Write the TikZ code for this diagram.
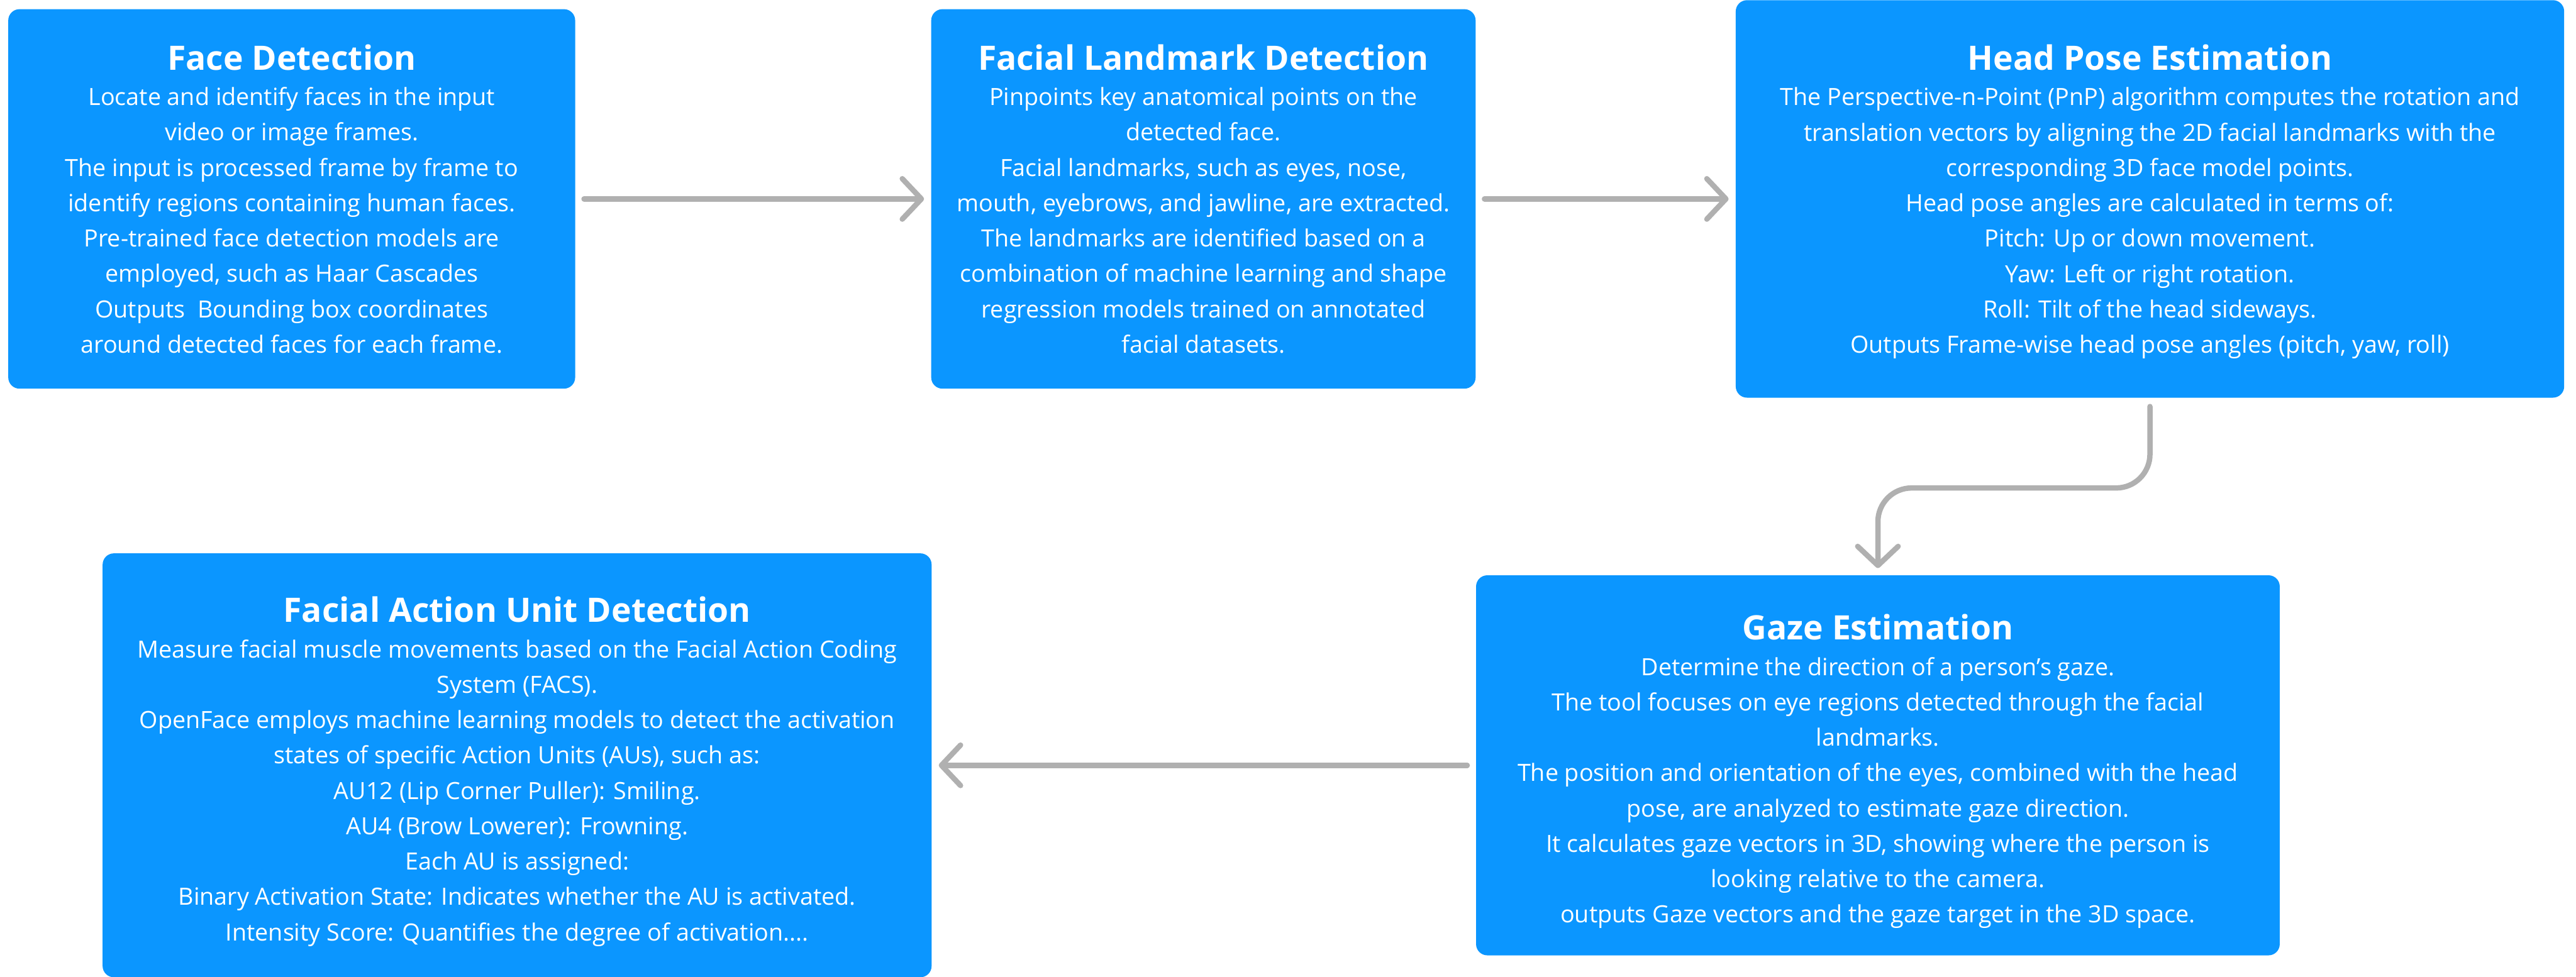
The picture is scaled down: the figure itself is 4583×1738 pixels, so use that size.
\documentclass[tikz,border=0pt]{standalone}
\usepackage{fontspec}
\setmainfont{Open Sans}
\usetikzlibrary{arrows.meta}

\definecolor{stageblue}{RGB}{11,150,255}
\definecolor{flowgrey}{RGB}{176,176,176}

\tikzset{
  stage/.style={fill=stageblue, rounded corners=0.2cm, text=white, align=center, inner sep=0pt,
    font=\fontsize{12}{17.9}\selectfont},
  flow/.style={draw=flowgrey, line width=0.095cm, line cap=round,
    -{Straight Barb[length=0.34cm, width=0.72cm, round]}, shorten <=0.15cm, shorten >=0.12cm}
}
\newcommand{\stagetitle}[2][0pt]{{\fontsize{17}{17.9}\selectfont\bfseries\rule{0pt}{#1}#2}}

\begin{document}
\begin{tikzpicture}[x=0.01cm, y=-0.01cm]
\useasboundingbox (0,0) rectangle (4583,1738);

\node(0) at (519,354)[stage, minimum width=10.08cm, minimum height=6.75cm] {\stagetitle{Face Detection}\\
Locate and identify faces in the input\\ video or image frames.\\
The input is processed frame by frame to\\ identify regions containing human faces.\\
Pre-trained face detection models are\\ employed, such as Haar Cascades\\
Outputs\ \ Bounding box coordinates\\ around detected faces for each frame.};
\node(1) at (2141,354)[stage, minimum width=9.68cm, minimum height=6.75cm] {\stagetitle{Facial Landmark Detection}\\
Pinpoints key anatomical points on the\\ detected face.\\
Facial landmarks, such as eyes, nose,\\ mouth, eyebrows, and jawline, are extracted.\\
The landmarks are identified based on a\\ combination of machine learning and shape\\
regression models trained on annotated\\ facial datasets.};
\node(2) at (3825,354)[stage, minimum width=14.73cm, minimum height=7.07cm] {\stagetitle[15.7pt]{Head Pose Estimation}\\
The Perspective-n-Point (PnP) algorithm computes the rotation and\\
translation vectors by aligning the 2D facial landmarks with the\\
corresponding 3D face model points.\\
Head pose angles are calculated in terms of:\\
Pitch: Up or down movement.\\
Yaw: Left or right rotation.\\
Roll: Tilt of the head sideways.\\
Outputs Frame-wise head pose angles (pitch, yaw, roll)};
\node(3) at (3341,1362)[stage, minimum width=14.29cm, minimum height=6.76cm] {\stagetitle[19.1pt]{Gaze Estimation}\\
Determine the direction of a person’s gaze.\\
The tool focuses on eye regions detected through the facial\\ landmarks.\\
The position and orientation of the eyes, combined with the head\\
pose, are analyzed to estimate gaze direction.\\
It calculates gaze vectors in 3D, showing where the person is\\
looking relative to the camera.\\
outputs Gaze vectors and the gaze target in the 3D space.};
\node(4) at (920,1362)[stage, minimum width=14.74cm, minimum height=7.54cm] {\stagetitle[19.2pt]{Facial Action Unit Detection}\\
Measure facial muscle movements based on the Facial Action Coding\\ System (FACS).\\
OpenFace employs machine learning models to detect the activation\\
states of specific Action Units (AUs), such as:\\
AU12 (Lip Corner Puller): Smiling.\\
AU4 (Brow Lowerer): Frowning.\\
Each AU is assigned:\\
Binary Activation State: Indicates whether the AU is activated.\\
Intensity Score: Quantifies the degree of activation....};

\path [flow]
  (0)      edge                 (1)
  (1)      edge                 (2)
  (3)      edge                 (4);
\draw [flow, rounded corners=0.6cm] (2.south) -- ++(0,160) -| (3.north);
\end{tikzpicture}
\end{document}
